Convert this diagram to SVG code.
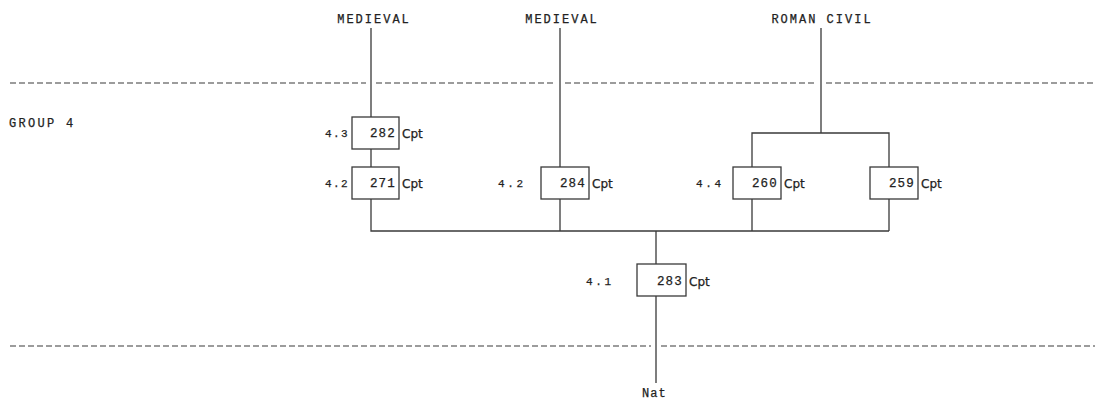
<svg xmlns="http://www.w3.org/2000/svg" width="1100" height="403" viewBox="0 0 1100 403">
<style>
.bg{fill:#fff}
.ln{stroke:#3a3a3a;stroke-width:1.3;fill:none}
.dash{stroke:#3a3a3a;stroke-width:1.2;fill:none;stroke-dasharray:6 3}
.box{fill:#fff;stroke:#3a3a3a;stroke-width:1.3}
text{fill:#222;stroke:#222;stroke-width:0.25}
.hd{font-family:"Liberation Mono",monospace;font-size:12px;letter-spacing:2px;text-anchor:middle}
.num{font-family:"Liberation Mono",monospace;font-size:12.5px;letter-spacing:1.2px;text-anchor:end}
.lab{font-family:"Liberation Mono",monospace;font-size:11px;letter-spacing:2.6px}
.labn{font-family:"Liberation Mono",monospace;font-size:11px;letter-spacing:1.4px}
.grp{font-family:"Liberation Mono",monospace;font-size:12px;letter-spacing:2.3px}
.cpt{font-family:"DejaVu Sans",sans-serif;font-size:12px}
</style>
<rect class="bg" x="0" y="0" width="1100" height="403"/>
<g id="boundaries">
<path class="dash" d="M10 83H366M376 83H555M565 83H816M826 83H1095"/>
<path class="dash" d="M10 346H651M661 346H1095"/>
<text class="grp" x="9" y="127">GROUP 4</text>
</g>
<g id="connectors">
<path class="ln" d="M371 28V117M371 149V167M371 199V231H889"/>
<path class="ln" d="M560 28V167M560 199V231"/>
<path class="ln" d="M821 28V133M752 167V133H889V167M752 199V231M889 199V231"/>
<path class="ln" d="M656 231V264M656 296V383"/>
</g>
<g id="src-medieval1"><text class="hd" x="374" y="23">MEDIEVAL</text></g>
<g id="src-medieval2"><text class="hd" x="562" y="23">MEDIEVAL</text></g>
<g id="src-roman"><text class="hd" x="822" y="23">ROMAN CIVIL</text></g>
<g id="n282">
<rect class="box" x="352" y="117" width="47" height="32"/>
<text class="num" x="396" y="137">282</text>
<text class="cpt" x="402" y="138">Cpt</text>
<text class="labn" x="325" y="137">4.3</text>
</g>
<g id="n271">
<rect class="box" x="352" y="167" width="47" height="32"/>
<text class="num" x="396" y="187">271</text>
<text class="cpt" x="402" y="188">Cpt</text>
<text class="labn" x="325" y="187">4.2</text>
</g>
<g id="n284">
<rect class="box" x="541" y="167" width="48" height="32"/>
<text class="num" x="586" y="187">284</text>
<text class="cpt" x="592" y="188">Cpt</text>
<text class="lab" x="498" y="187">4.2</text>
</g>
<g id="n260">
<rect class="box" x="733" y="167" width="48" height="32"/>
<text class="num" x="778" y="187">260</text>
<text class="cpt" x="784" y="188">Cpt</text>
<text class="lab" x="696" y="187">4.4</text>
</g>
<g id="n259">
<rect class="box" x="870" y="167" width="48" height="32"/>
<text class="num" x="915" y="187">259</text>
<text class="cpt" x="921" y="188">Cpt</text>
</g>
<g id="n283">
<rect class="box" x="637" y="264" width="49" height="32"/>
<text class="num" x="683" y="285">283</text>
<text class="cpt" x="689" y="286">Cpt</text>
<text class="lab" x="586" y="285">4.1</text>
</g>
<g id="sink-nat"><text class="lab" x="642" y="397" style="font-size:12px;letter-spacing:1px">Nat</text></g>
</svg>
